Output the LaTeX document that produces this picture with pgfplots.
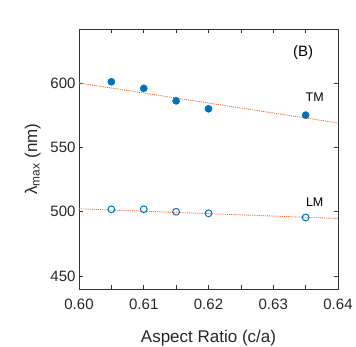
\documentclass[border=0pt]{standalone}
\usepackage{fontspec}
\setmainfont{Liberation Sans}
\usepackage{pgfplots}
\pgfplotsset{compat=1.18}

\definecolor{mblue}{rgb}{0,0.447,0.741}
\definecolor{morange}{rgb}{0.95,0.40,0.15}

\begin{document}
\begin{tikzpicture}
\useasboundingbox (-79pt,-57pt) rectangle (277pt,289pt);
\begin{axis}[
  at={(0,0)}, anchor=south west,
  scale only axis,
  width=259pt, height=260pt,
  xmin=0.60, xmax=0.64,
  ymin=440, ymax=642,
  xtick={0.60,0.61,0.62,0.63,0.64},
  minor xtick={0.605,0.615,0.625,0.635},
  xticklabels={0.60,0.61,0.62,0.63,0.64},
  ytick={450,500,550,600},
  tick align=inside,
  major tick length=4pt, minor tick length=4pt,
  axis line style={black!80, line width=0.7pt},
  tick style={black!80, line width=0.6pt},
  /pgf/number format/assume math mode=true,
  ticklabel style={font=\fontsize{15}{17}\selectfont, text=black!85},
  xticklabel style={yshift=-6pt},
  xlabel={Aspect Ratio (c/a)},
  ylabel={λ\textsubscript{max} (nm)},
  label style={font=\fontsize{17}{19}\selectfont, text=black!85},
  xlabel style={yshift=-14pt},
  ylabel style={yshift=3pt},
  clip=false,
]
% fit lines
\addplot[morange, densely dotted, line width=0.9pt] coordinates {(0.60,600) (0.64,569)};
\addplot[morange, densely dotted, line width=0.9pt] coordinates {(0.60,502.3) (0.64,494.8)};
% TM
\addplot[only marks, mark=*, mark size=3.6pt, mblue, mark options={fill=mblue}] coordinates {
  (0.605,601) (0.610,595.9) (0.615,586.2) (0.620,580) (0.635,575.1)
};
% LM
\addplot[only marks, mark=o, mark size=3.4pt, mblue, mark options={line width=1pt}] coordinates {
  (0.605,501.9) (0.610,502) (0.615,500) (0.620,498.8) (0.635,495.6)
};
\node[font=\fontsize{15}{17}\selectfont] at (axis cs:0.6346,624) {(B)};
\node[font=\fontsize{12.5}{14}\selectfont] at (axis cs:0.6364,589) {TM};
\node[font=\fontsize{12.5}{14}\selectfont] at (axis cs:0.6364,507.5) {LM};
\end{axis}
\end{tikzpicture}
\end{document}
